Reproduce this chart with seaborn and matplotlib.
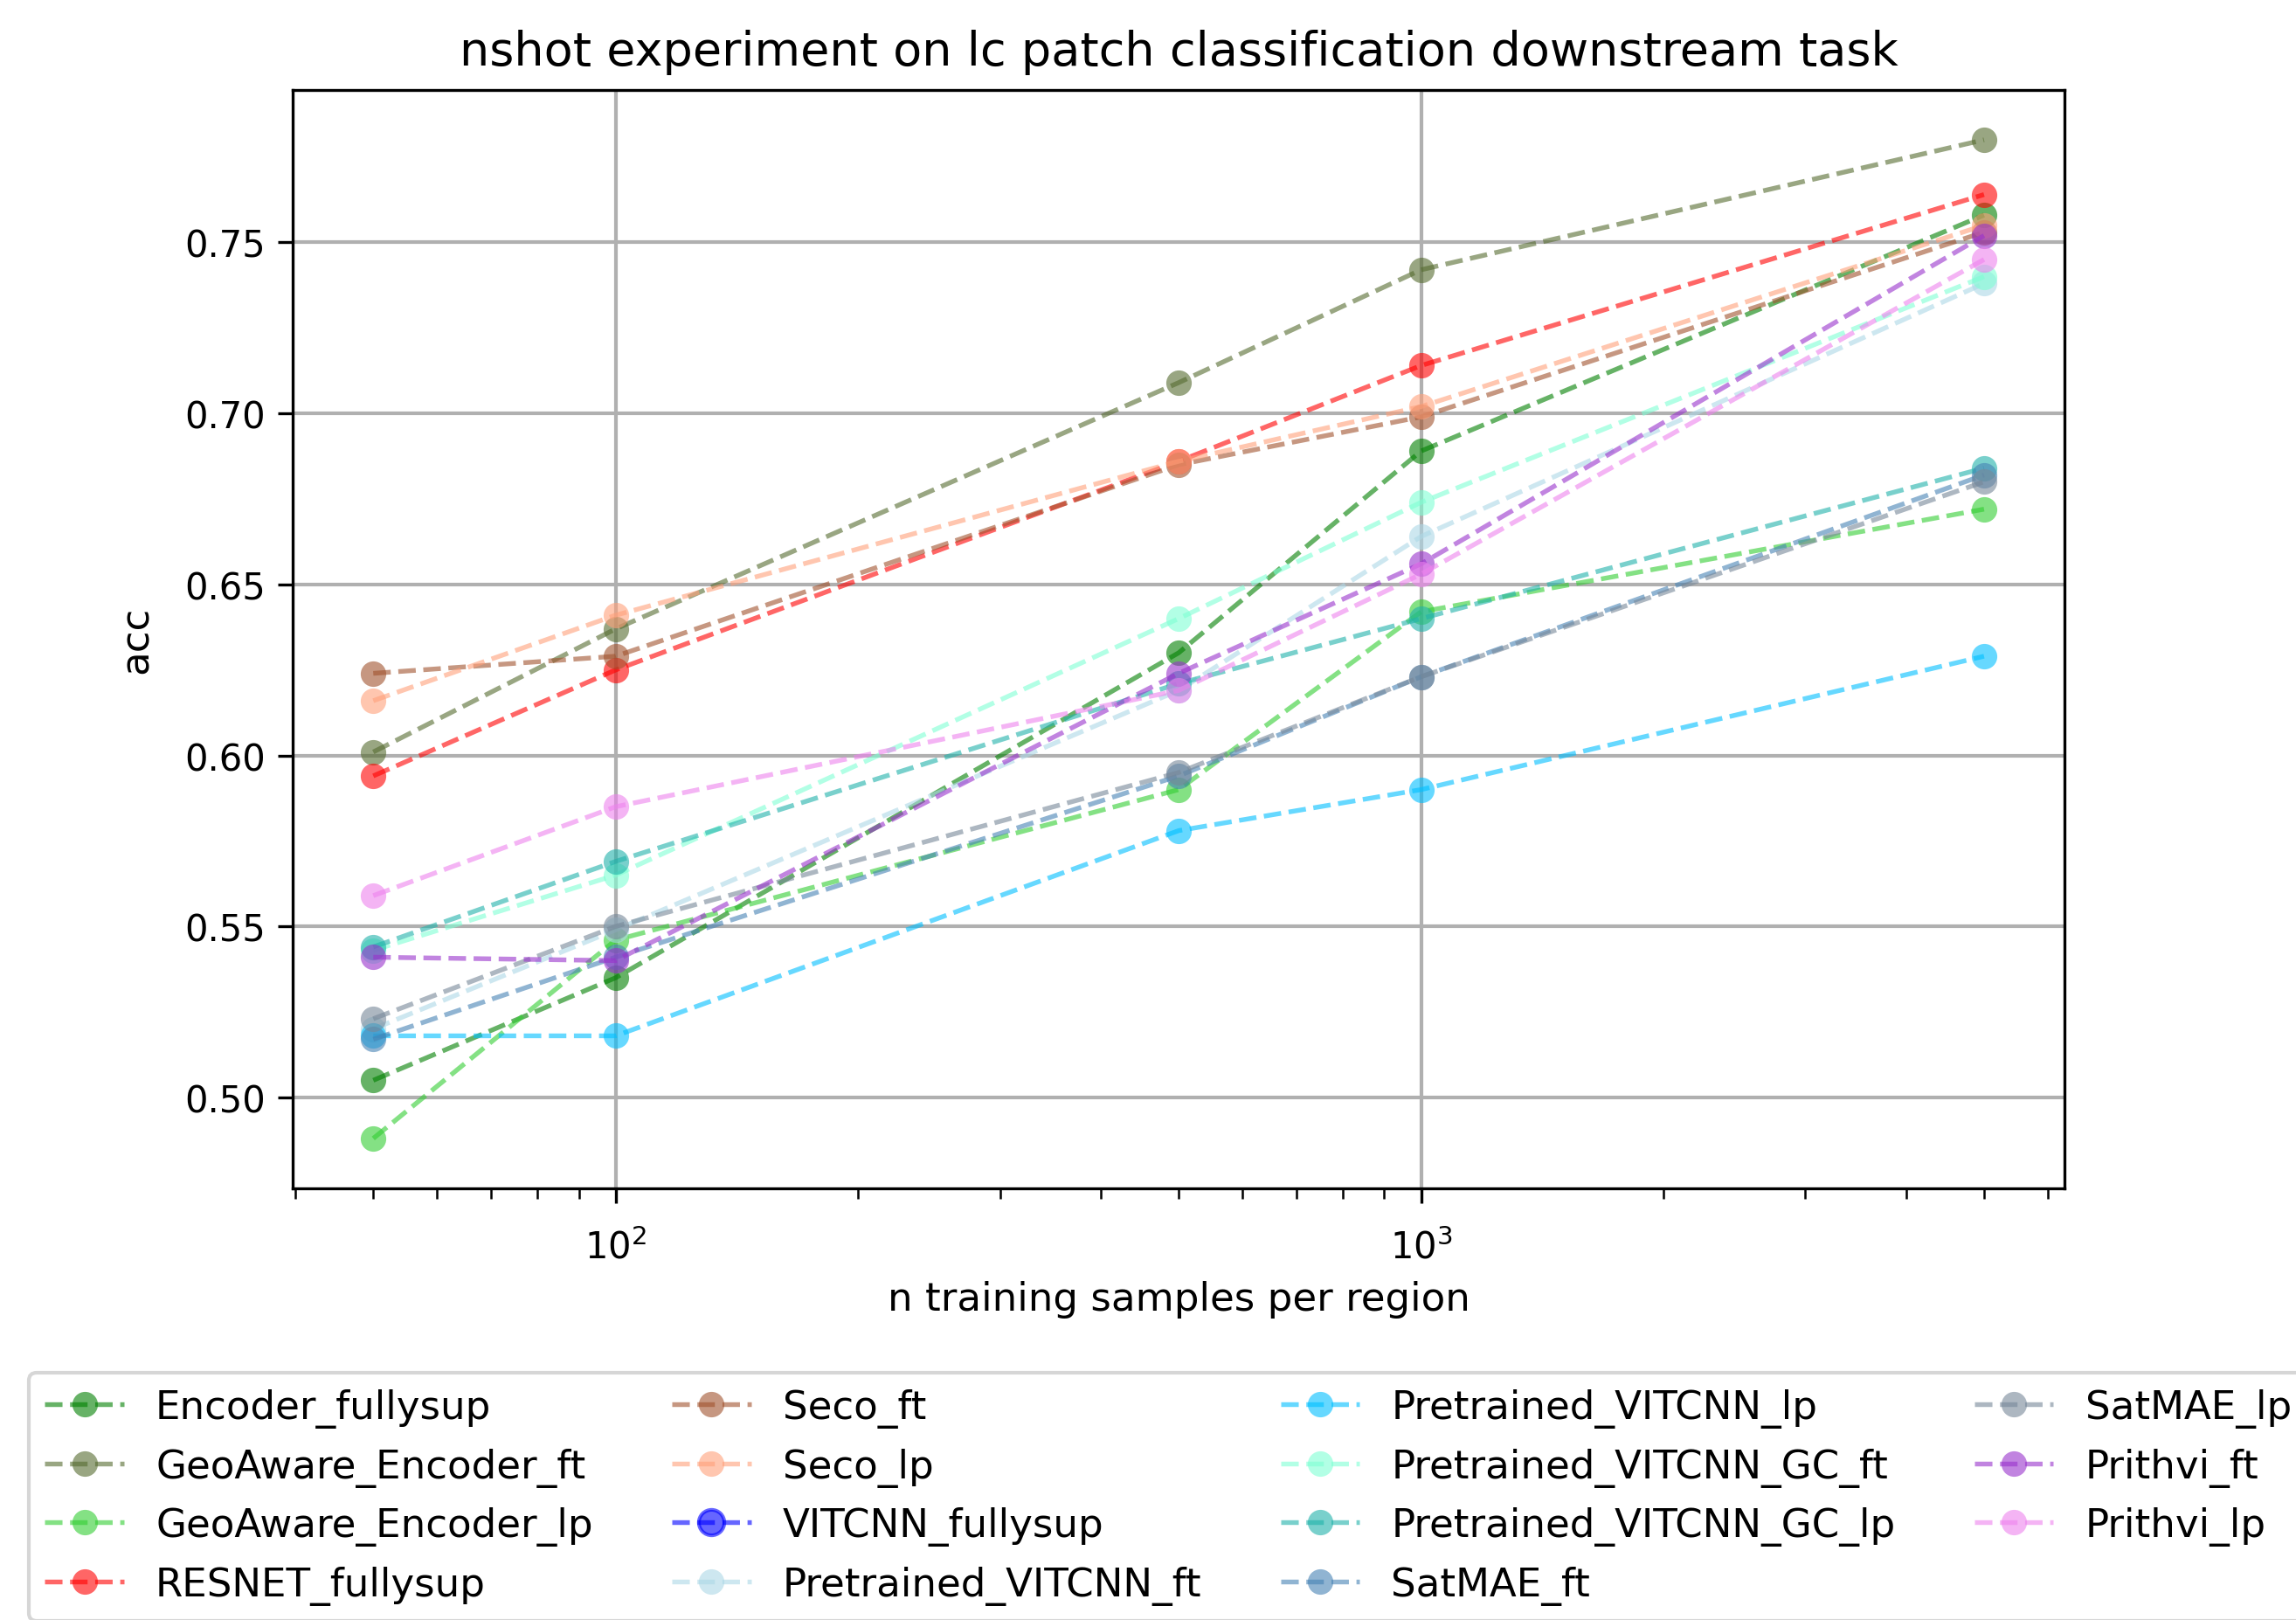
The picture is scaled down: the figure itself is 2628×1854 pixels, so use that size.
import numpy as np
import matplotlib
matplotlib.use("Agg")
import matplotlib.pyplot as plt
import seaborn as sns

# n training samples per region
n_samples = [50, 100, 500, 1000, 5000]

encoder_fullysup = [0.505, 0.535, 0.630, 0.689, 0.758]
geoaware_encoder_ft = [0.601, 0.637, 0.709, 0.742, 0.780]
geoaware_encoder_lp = [0.488, 0.546, 0.590, 0.642, 0.672]
resnet_fullysup = [0.594, 0.625, 0.686, 0.714, 0.764]
seco_ft = [0.624, 0.629, 0.685, 0.699, 0.753]
seco_lp = [0.616, 0.641, 0.686, 0.702, 0.755]
vitcnn_fullysup = [np.nan, np.nan, np.nan, np.nan, np.nan]
pretrained_vitcnn_ft = [0.520, 0.549, 0.619, 0.664, 0.738]
pretrained_vitcnn_lp = [0.518, 0.518, 0.578, 0.590, 0.629]
pretrained_vitcnn_gc_ft = [0.543, 0.565, 0.640, 0.674, 0.740]
pretrained_vitcnn_gc_lp = [0.544, 0.569, 0.621, 0.640, 0.684]
satmae_ft = [0.517, 0.541, 0.594, 0.623, 0.682]
satmae_lp = [0.523, 0.550, 0.595, 0.623, 0.680]
prithvi_ft = [0.541, 0.540, 0.624, 0.656, 0.752]
prithvi_lp = [0.559, 0.585, 0.619, 0.653, 0.745]

series = [
    ("Encoder_fullysup", encoder_fullysup, "green"),
    ("GeoAware_Encoder_ft", geoaware_encoder_ft, "darkolivegreen"),
    ("GeoAware_Encoder_lp", geoaware_encoder_lp, "limegreen"),
    ("RESNET_fullysup", resnet_fullysup, "red"),
    ("Seco_ft", seco_ft, "sienna"),
    ("Seco_lp", seco_lp, "lightsalmon"),
    ("VITCNN_fullysup", vitcnn_fullysup, "blue"),
    ("Pretrained_VITCNN_ft", pretrained_vitcnn_ft, "lightblue"),
    ("Pretrained_VITCNN_lp", pretrained_vitcnn_lp, "deepskyblue"),
    ("Pretrained_VITCNN_GC_ft", pretrained_vitcnn_gc_ft, "aquamarine"),
    ("Pretrained_VITCNN_GC_lp", pretrained_vitcnn_gc_lp, "lightseagreen"),
    ("SatMAE_ft", satmae_ft, "steelblue"),
    ("SatMAE_lp", satmae_lp, "lightslategray"),
    ("Prithvi_ft", prithvi_ft, "darkorchid"),
    ("Prithvi_lp", prithvi_lp, "violet"),
]

fig = plt.figure(figsize=(8.76, 6.1833), dpi=300)
ax = fig.add_axes([0.1275, 0.2663, 0.7717, 0.6777])

for name, vals, col in series:
    if np.all(np.isnan(vals)):
        # nothing to draw, keep the legend entry
        ax.plot(n_samples, vals, "o--", color=col, alpha=0.6, markersize=7,
                linewidth=1.3, label=name)
        continue
    sns.lineplot(x=n_samples, y=vals, ax=ax, color=col, marker="o",
                 linestyle="--", alpha=0.6, markersize=7, linewidth=1.3,
                 markeredgewidth=0, label=name, legend=False)

ax.set_xscale("log")
ax.grid(True, which="major", color="#b0b0b0", linewidth=1.0)
ax.tick_params(axis="x", which="both", pad=7)
ax.tick_params(axis="both", which="major", length=4)
ax.tick_params(axis="x", which="minor", length=2.8)
ax.set_title("nshot experiment on lc patch classification downstream task",
             fontsize=13, pad=7)
ax.set_xlabel("n training samples per region", fontsize=10.85)
ax.set_ylabel("acc", fontsize=10.85, labelpad=8)

handles, labels = ax.get_legend_handles_labels()
fig.legend(handles, labels, loc="upper left", bbox_to_anchor=(0.0127, 0.1526),
           borderaxespad=0, ncol=4, fontsize=10.85)

fig.savefig("out.png", dpi=300)
